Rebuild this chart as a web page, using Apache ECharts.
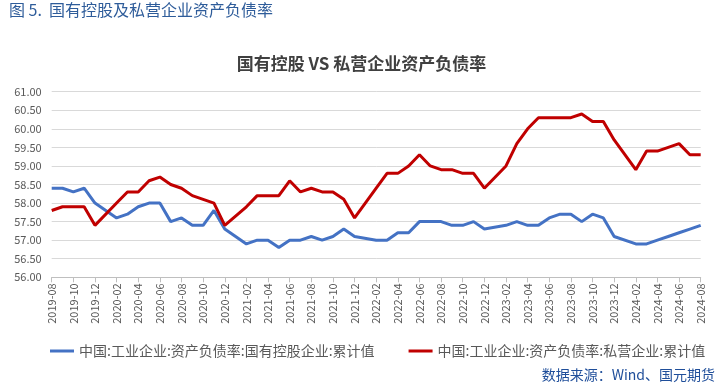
<!DOCTYPE html>
<html>
<head>
<meta charset="utf-8">
<script src="https://cdn.jsdelivr.net/npm/echarts@6/dist/echarts.min.js"></script>
<style>
html,body{margin:0;padding:0;background:#fff;}
#c{width:723px;height:392px;}
</style>
</head>
<body>
<div id="c"></div>
<script>
const categories = [
"2019-08","2019-09","2019-10","2019-11","2019-12",
"2020-01","2020-02","2020-03","2020-04","2020-05","2020-06","2020-07","2020-08","2020-09","2020-10","2020-11","2020-12",
"2021-01","2021-02","2021-03","2021-04","2021-05","2021-06","2021-07","2021-08","2021-09","2021-10","2021-11","2021-12",
"2022-01","2022-02","2022-03","2022-04","2022-05","2022-06","2022-07","2022-08","2022-09","2022-10","2022-11","2022-12",
"2023-01","2023-02","2023-03","2023-04","2023-05","2023-06","2023-07","2023-08","2023-09","2023-10","2023-11","2023-12",
"2024-01","2024-02","2024-03","2024-04","2024-05","2024-06","2024-07","2024-08"
];
const stateOwned = [
58.4,58.4,58.3,58.4,58.0,
null,57.6,57.7,57.9,58.0,58.0,57.5,57.6,57.4,57.4,57.8,57.3,
null,56.9,57.0,57.0,56.8,57.0,57.0,57.1,57.0,57.1,57.3,57.1,
null,57.0,57.0,57.2,57.2,57.5,57.5,57.5,57.4,57.4,57.5,57.3,
null,57.4,57.5,57.4,57.4,57.6,57.7,57.7,57.5,57.7,57.6,57.1,
null,56.9,56.9,57.0,57.1,57.2,57.3,57.4
];
const privateOwned = [
57.8,57.9,57.9,57.9,57.4,
null,58.0,58.3,58.3,58.6,58.7,58.5,58.4,58.2,58.1,58.0,57.4,
null,57.9,58.2,58.2,58.2,58.6,58.3,58.4,58.3,58.3,58.1,57.6,
null,58.4,58.8,58.8,59.0,59.3,59.0,58.9,58.9,58.8,58.8,58.4,
null,59.0,59.6,60.0,60.3,60.3,60.3,60.3,60.4,60.2,60.2,59.7,
null,58.9,59.4,59.4,59.5,59.6,59.3,59.3
];
const seriesNames = [
"中国:工业企业:资产负债率:国有控股企业:累计值",
"中国:工业企业:资产负债率:私营企业:累计值"
];
const captionText = "图 5.  国有控股及私营企业资产负债率";
const titleText = "国有控股 VS 私营企业资产负债率";
const sourceText = "数据来源：Wind、国元期货";

const FONT = '"Noto Sans CJK SC", "Noto Sans", sans-serif';
const chart = echarts.init(document.getElementById('c'), null, {renderer: 'canvas'});
chart.setOption({
  animation: false,
  backgroundColor: '#ffffff',
  textStyle: {fontFamily: FONT},
  graphic: [
    {type: 'text', left: 9, top: 2, style: {text: captionText, fill: '#2E5C9A', font: '16px ' + FONT}},
    {type: 'text', right: 8, top: 368, style: {text: sourceText, fill: '#1F4E9A', font: '14px ' + FONT}}
  ],
  title: {
    text: titleText, left: 'center', top: 50,
    textStyle: {fontSize: 17, fontWeight: 'bold', color: '#404040', fontFamily: FONT}
  },
  legend: {
    left: 45, top: 339, itemGap: 34, itemWidth: 24, itemHeight: 3, icon: 'rect',
    textStyle: {fontSize: 14, color: '#595959', fontFamily: FONT},
    data: seriesNames
  },
  grid: {left: 51.7, right: 22.3, top: 91.7, bottom: 114.7},
  xAxis: {
    type: 'category', data: categories, boundaryGap: false,
    axisLine: {lineStyle: {color: '#bfbfbf'}},
    axisTick: {interval: 1, length: 5, lineStyle: {color: '#bfbfbf'}},
    axisLabel: {interval: 1, rotate: 90, fontSize: 11, color: '#595959', margin: 6, fontFamily: FONT}
  },
  yAxis: {
    type: 'value', min: 56, max: 61, interval: 0.5,
    axisLine: {show: false}, axisTick: {show: false},
    axisLabel: {fontSize: 11, color: '#595959', margin: 10, formatter: v => v.toFixed(2), fontFamily: FONT},
    splitLine: {lineStyle: {color: '#d9d9d9'}}
  },
  series: [
    {name: seriesNames[0], type: 'line', data: stateOwned, symbol: 'none', connectNulls: true,
     lineStyle: {width: 3, color: '#4472C4'}, itemStyle: {color: '#4472C4'}},
    {name: seriesNames[1], type: 'line', data: privateOwned, symbol: 'none', connectNulls: true,
     lineStyle: {width: 3, color: '#C00000'}, itemStyle: {color: '#C00000'}}
  ]
});
</script>
</body>
</html>
